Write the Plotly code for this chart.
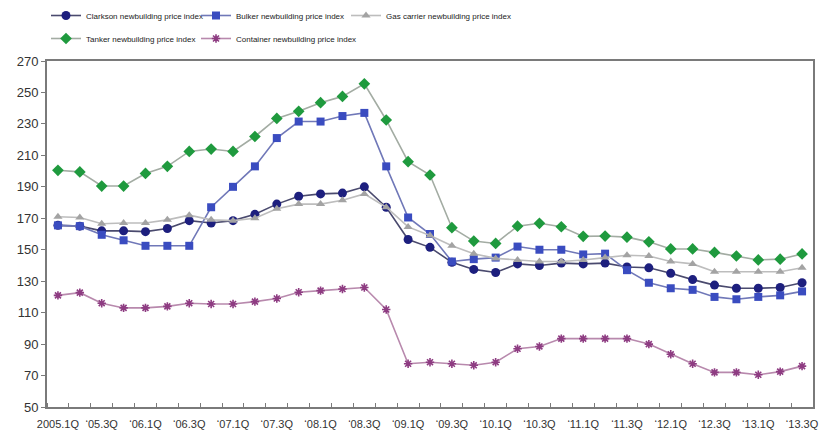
import plotly.graph_objects as go

# Quarterly newbuilding price indices, 2005 Q1 - 2013 Q3
quarters = [f"{y}.{q}Q" for y in range(2005, 2014) for q in range(1, 5)][:35]
tick_labels = ["2005.1Q", "\u201805.3Q", "\u201806.1Q", "\u201806.3Q", "\u201807.1Q",
               "\u201807.3Q", "\u201808.1Q", "\u201808.3Q", "\u201809.1Q", "\u201809.3Q",
               "\u201810.1Q", "\u201810.3Q", "\u201811.1Q", "\u201811.3Q", "\u201812.1Q",
               "\u201812.3Q", "\u201813.1Q", "\u201813.3Q"]

clarkson = [165.5, 165, 162, 162, 161.5, 163.5, 168.5, 167, 168.5, 172.5, 179, 184,
            185.5, 186, 190, 177, 156.5, 151.5, 142, 137.5, 135.5, 141, 140, 141.5,
            141, 141.5, 139, 138.5, 135, 131, 127.5, 125.5, 125.5, 126, 129]
bulker = [165.5, 165, 159.5, 156, 152.5, 152.5, 152.5, 177, 190, 203, 221, 231.5,
          231.5, 235, 237, 203, 170.5, 160, 142.5, 144, 145, 152, 150, 150, 147,
          147.5, 137, 129, 125.5, 124.5, 120, 118.5, 120, 121, 123.5]
gas_carrier = [171, 170.5, 166.5, 167, 167, 169, 172, 169, 168.5, 170, 176, 179,
               179, 181.5, 185.5, 177, 164.5, 159, 152.5, 147.5, 144.5, 143.5, 142.5,
               142.5, 143.5, 145, 146.5, 146, 142.5, 141, 136, 136, 136, 136, 138.5]
tanker = [200.5, 199.5, 190.5, 190.5, 198.5, 203, 212.5, 214, 212.5, 222, 233.5, 238,
          243.5, 247.5, 255.5, 232.5, 206, 197.5, 164, 155.5, 154, 165, 166.8, 164.6,
          158.5, 158.7, 158, 155, 150.5, 150.5, 148.3, 146, 143.5, 144, 147.3]
container = [121, 122.7, 116, 113, 113, 114, 116, 115.5, 115.5, 117, 119, 123, 124,
             125, 126, 112, 77.5, 78.5, 77.5, 76.5, 78.5, 87, 88.5, 93.5, 93.5, 93.5,
             93.5, 90, 83.5, 77.5, 72, 72, 70.5, 72.5, 76]

x = list(range(len(quarters)))
tick_pos = x[::2]

# name, values, marker symbol, marker size, marker colour, line colour, legend id, legend (x px, y px)
series = [
    ("Clarkson newbuilding price index", clarkson, "circle", 9, "#1d1f7e", "#4a4a6e", "legend", (46, 1)),
    ("Bulker newbuilding price index", bulker, "square", 8, "#3a4cc0", "#7078b8", "legend2", (196, 1)),
    ("Gas carrier newbuilding price index", gas_carrier, "triangle-up", 8, "#a3a3a3", "#bdbdbd", "legend3", (346, 1)),
    ("Tanker newbuilding price index", tanker, "diamond", 9, "#1f9a3e", "#a3aca3", "legend4", (46, 24)),
    ("Container newbuilding price index", container, "asterisk-open", 7, "#8e3c82", "#b889ad", "legend5", (196, 24)),
]

W, H = 835, 433
fig = go.Figure()
legends = {}
for name, vals, sym, size, mcol, lcol, leg, (lx, ly) in series:
    marker = dict(symbol=sym, size=size, color=mcol)
    if sym.endswith("open"):
        marker["line"] = dict(color=mcol, width=1.6)
    fig.add_trace(go.Scatter(
        x=x, y=vals, name=name, mode="lines+markers",
        line=dict(color=lcol, width=1.6),
        marker=marker, legend=leg, customdata=quarters,
        hovertemplate="%{customdata}: %{y}<extra>%{fullData.name}</extra>",
    ))
    legends[leg] = dict(
        orientation="h", xref="container", yref="container",
        x=lx / W, y=1.0 - ly / H, xanchor="left", yanchor="top",
        font=dict(family="Liberation Sans, Arial", size=8, color="#222222"),
        itemwidth=30, bgcolor="rgba(0,0,0,0)",
    )

fig.update_layout(
    width=W, height=H,
    margin=dict(l=47, r=22, t=61, b=26, autoexpand=False),
    paper_bgcolor="white", plot_bgcolor="white",
    showlegend=True,
    font=dict(family="Liberation Sans, Arial", color="#333333"),
    **legends,
)
fig.update_xaxes(
    range=[-0.5, len(x) - 0.5], tickmode="array", tickvals=tick_pos, ticktext=tick_labels,
    ticks="", showgrid=False, zeroline=False, ticklabelstandoff=6,
    showline=True, linecolor="#7a7a7a", linewidth=2, mirror=True,
    tickfont=dict(family="Liberation Sans, Arial", size=11, color="#333333"),
    minor=dict(ticks="inside", tick0=0.5, dtick=1, ticklen=4, tickcolor="#7a7a7a", showgrid=False),
)
fig.update_yaxes(
    range=[50, 270], dtick=20, tick0=50, showgrid=False, zeroline=False,
    showline=True, linecolor="#7a7a7a", linewidth=2, mirror=True,
    ticks="outside", ticklen=4, tickcolor="#7a7a7a",
    tickfont=dict(family="Liberation Sans, Arial", size=13, color="#333333"),
)

fig.write_html("out.html")
